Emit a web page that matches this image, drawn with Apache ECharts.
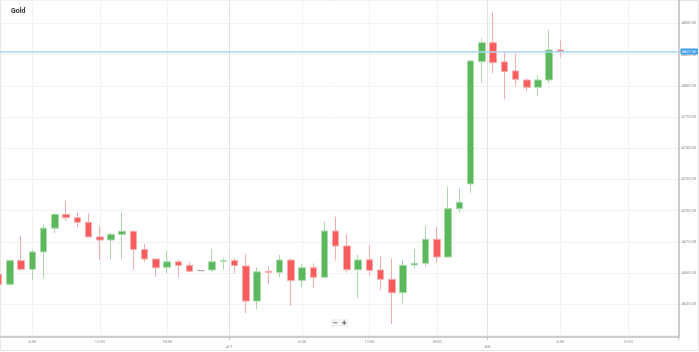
<!DOCTYPE html>
<html>
<head>
<meta charset="utf-8">
<script src="https://cdn.jsdelivr.net/npm/echarts@6/dist/echarts.min.js"></script>
<style>
  html, body { margin: 0; padding: 0; background: #fff; overflow: hidden; width: 699px; height: 352px; position: relative; }
  /* the first candle is cut by the left edge, so the canvas starts 7px off-page */
  #chart { position: absolute; left: -7px; top: 0; width: 706px; height: 352px; }
</style>
</head>
<body>
<div id="chart"></div>
<script>
// hourly categories (one hour missing on the evening of 4/7)
var times = [
  '4/6 3:00','4/6 4:00','4/6 5:00','4/6 6:00','4/6 7:00','4/6 8:00','4/6 9:00','4/6 10:00',
  '4/6 11:00','4/6 12:00','4/6 13:00','4/6 14:00','4/6 15:00','4/6 16:00','4/6 17:00','4/6 18:00',
  '4/6 19:00','4/6 20:00','4/6 21:00','4/6 22:00','4/6 23:00',
  '4/7 0:00','4/7 1:00','4/7 2:00','4/7 3:00','4/7 4:00','4/7 5:00','4/7 6:00','4/7 7:00',
  '4/7 8:00','4/7 9:00','4/7 10:00','4/7 11:00','4/7 12:00','4/7 13:00','4/7 14:00','4/7 15:00',
  '4/7 16:00','4/7 17:00','4/7 18:00','4/7 19:00','4/7 20:00','4/7 22:00','4/7 23:00',
  '4/8 0:00','4/8 1:00','4/8 2:00','4/8 3:00','4/8 4:00','4/8 5:00','4/8 6:00','4/8 7:00',
  '4/8 8:00','4/8 9:00','4/8 10:00','4/8 11:00','4/8 12:00','4/8 13:00','4/8 14:00','4/8 15:00',
  '4/8 16:00'
];

var opens  = [4649,4641,4660,4653,4667,4686,4697,4694.4,4690.7,4679,4676.5,4681,4683.5,4669,4661.3,4654.6,
              4659,4656.2,4652,4652.5,4659.5,4660,4655.7,4627.6,4651.4,4650.6,4660.5,4644.2,4654.3,4646.6,
              4683.7,4671.7,4652.7,4660.7,4652.5,4645,4634.3,4656.5,4657.8,4677.1,4662.9,4701.6,4721.4,
              4819.4,4834.6,4819.2,4812,4804.7,4798.9,4804.7,4828.8];
var closes = [4641,4660,4653,4667,4686,4697,4694.4,4690.7,4679,4676.5,4681,4683.5,4669,4661.3,4654.3,4659,
              4656.2,4651.4,4652,4659,4660,4656,4627.6,4651,4650.6,4660.5,4644,4654.3,4646.6,4683.7,
              4671.7,4652.7,4660.5,4652.2,4645,4634.3,4656.2,4657.8,4677.1,4662.9,4701.6,4706.7,4820,
              4834.6,4818.6,4811.4,4805.3,4798.9,4804.7,4828.8,4827.5];
var lows   = [4639,4640,4652,4644.5,4646,4682,4692,4686.4,4679,4660.5,4661,4661.3,4653,4659,4647,4649.8,
              4646.6,4651,4651.8,4651,4652.5,4650,4617.8,4621,4641,4646.6,4623.9,4638.6,4637.8,4646.6,
              4660,4650.3,4629.8,4647.7,4636.5,4609.2,4625.8,4653.8,4655.1,4658.3,4662.7,4698.4,4714.4,
              4802.6,4810,4789.2,4799.8,4796,4792,4802.1,4822.8];
var highs  = [4651,4661,4680,4668.5,4689,4698.4,4708,4698.7,4698,4687.7,4682.4,4698.7,4683.5,4673.3,4661.3,4667.7,
              4661,4659,4652.2,4669,4661.8,4662,4665.3,4654.6,4655.1,4664.5,4661.8,4657.3,4657.8,4691.2,
              4695.2,4681.3,4664.5,4672,4664,4661.8,4660.5,4669.3,4687.7,4687.2,4719.2,4718,4820.8,
              4838.1,4859,4826.6,4826,4806,4808.5,4844.8,4836.2];

var hourMarks = ['6:00', '12:00', '18:00'];
var dayMarks = ['0:00'];
var yMin = 4598.8, yMax = 4868.8, yStep = 25;

var candles = [];
for (var i = 0; i < opens.length; i++) {
  candles.push([opens[i], closes[i], lows[i], highs[i]]);
}
var lastClose = closes[closes.length - 1];

function hourOf(t) { return t.split(' ')[1]; }
function isHourMark(idx, val) { return hourMarks.indexOf(hourOf(val)) >= 0; }
function isDayMark(idx, val) { return dayMarks.indexOf(hourOf(val)) >= 0; }

var dx = 7; // canvas offset (see css)

var chart = echarts.init(document.getElementById('chart'));
chart.setOption({
  animation: false,
  backgroundColor: '#fff',
  title: {
    text: 'Gold', left: 6 + dx, top: 3,
    textStyle: { fontFamily: 'Roboto', fontSize: 7, fontWeight: 'bold', color: '#333' }
  },
  grid: { left: 0, right: 20, top: 0, bottom: 15, containLabel: false },
  xAxis: [
    {
      type: 'category', data: times, boundaryGap: true,
      axisLine: { show: true, lineStyle: { color: '#ccc', width: 2 } },
      axisTick: { show: false },
      axisLabel: {
        interval: isHourMark, margin: 3, fontSize: 4, color: '#888', fontFamily: 'Roboto',
        formatter: function (v) { return hourOf(v); }
      },
      splitLine: { show: true, alignWithLabel: true, interval: isHourMark, lineStyle: { color: '#f1f1f1', width: 1 } }
    },
    {
      type: 'category', data: times, boundaryGap: true, position: 'bottom',
      axisLine: { show: false },
      axisTick: { show: true, interval: isDayMark, length: 3, lineStyle: { color: '#bbb' } },
      axisLabel: {
        interval: isDayMark, margin: 8, fontSize: 4, color: '#888', fontFamily: 'Roboto',
        padding: [0, 11, 0, 0],
        formatter: function (v) { return v.split(' ')[0]; }
      },
      splitLine: { show: true, interval: isDayMark, lineStyle: { color: '#e2e2e2', width: 1 } }
    }
  ],
  yAxis: {
    type: 'value', position: 'right', scale: true,
    min: yMin, max: yMax, minInterval: yStep, maxInterval: yStep,
    axisLine: { show: true, lineStyle: { color: '#ccc', width: 2 } },
    axisTick: { show: false },
    axisLabel: {
      margin: 3, fontSize: 4, color: '#888', fontFamily: 'Roboto',
      showMinLabel: false, showMaxLabel: false,
      formatter: function (v) { return (v % yStep === 0 && v >= 4625) ? v.toFixed(2) : ''; }
    },
    splitLine: { show: true, lineStyle: { color: '#f1f1f1', width: 1 } }
  },
  series: [{
    type: 'candlestick',
    xAxisIndex: 0,
    data: candles,
    barWidth: 7,
    itemStyle: {
      color: '#5cb85c', color0: '#f95c5c',
      borderColor: '#a9d9a9', borderColor0: '#f8abab',
      borderColorDoji: '#aaa', borderWidth: 1
    },
    markLine: {
      symbol: 'none', silent: true,
      data: [{ yAxis: lastClose }],
      lineStyle: { color: '#a9d6f5', width: 1.5, type: 'solid' },
      label: {
        position: 'end', distance: 2,
        formatter: function (p) { return p.value.toFixed(2); },
        backgroundColor: '#3d9be8', color: '#fff', fontSize: 4, fontFamily: 'Roboto',
        padding: [1, 1.5, 1, 1.5], borderRadius: 1
      }
    }
  }],
  graphic: [
    { type: 'rect', shape: { x: 0.5 + dx, y: 0.5, width: 697.5, height: 350 }, style: { fill: 'none', stroke: '#e4e4e4', lineWidth: 1 }, silent: true, z: -10 },
    { type: 'rect', shape: { x: 331 + dx, y: 319, width: 8.5, height: 8 }, style: { fill: '#f2f2f2' }, z: 10 },
    { type: 'rect', shape: { x: 340 + dx, y: 319, width: 8.5, height: 8 }, style: { fill: '#f2f2f2' }, z: 10 },
    { type: 'text', x: 335.2 + dx, y: 323, style: { text: '−', fontSize: 7, fill: '#444', align: 'center', verticalAlign: 'middle', fontFamily: 'DejaVu Sans' }, z: 11 },
    { type: 'text', x: 344.2 + dx, y: 323, style: { text: '+', fontSize: 7, fill: '#444', align: 'center', verticalAlign: 'middle', fontFamily: 'DejaVu Sans', fontWeight: 'bold' }, z: 11 }
  ]
});
</script>
</body>
</html>
